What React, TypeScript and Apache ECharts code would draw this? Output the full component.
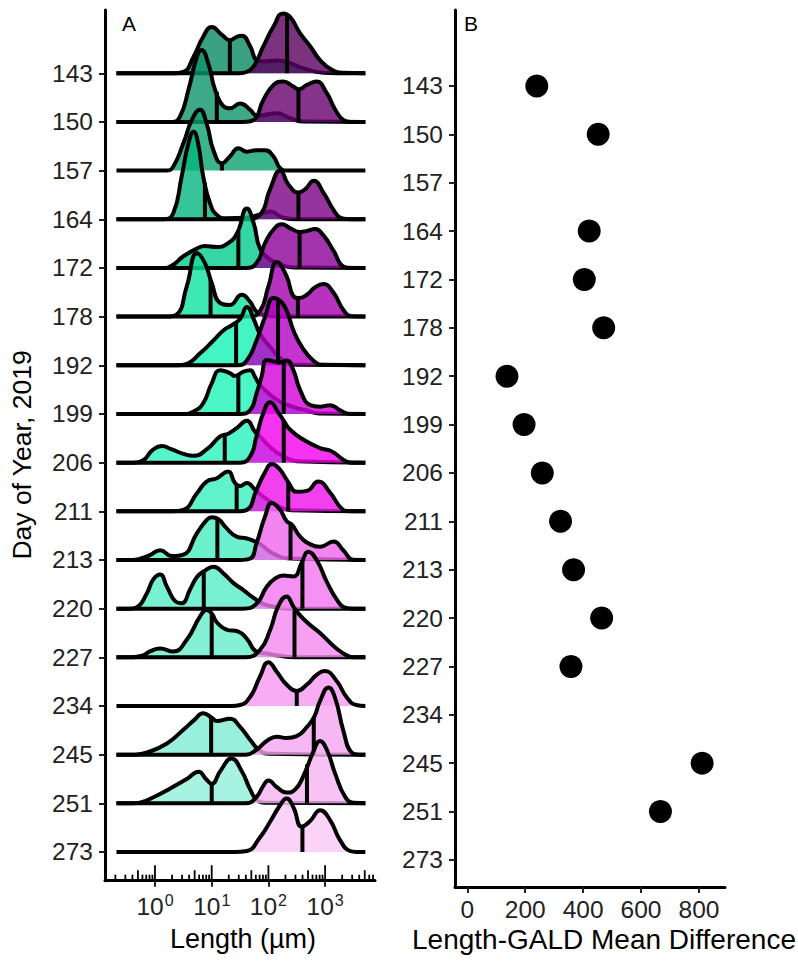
import React, { useEffect, useRef } from "react";
import * as echarts from "echarts";

// ---------- data ----------
const days = ["143", "150", "157", "164", "172", "178", "192", "199", "206", "211", "213", "220", "227", "234", "245", "251", "273"];

// Panel A: density outlines, [log10(length, µm), density height in row units]
const g143 = [[-0.68, 0], [0.3, 0], [0.5, 0.03], [0.68, 0.34], [0.85, 0.75], [1.0, 0.95], [1.18, 0.79], [1.32, 0.68], [1.44, 0.75], [1.53, 0.77], [1.68, 0.55], [1.79, 0.27], [1.91, 0.24], [2.15, 0.26], [2.38, 0.21], [2.62, 0.1], [2.97, 0.01], [3.2, 0], [3.71, 0]];
const p143 = [[-0.68, 0], [1.5, 0], [1.62, 0.03], [1.74, 0.14], [1.91, 0.55], [2.09, 0.96], [2.26, 1.23], [2.38, 1.16], [2.56, 0.82], [2.74, 0.55], [2.91, 0.27], [3.12, 0.07], [3.32, 0.01], [3.71, 0]];
const g150 = [[-0.68, 0], [0.3, 0], [0.44, 0.11], [0.59, 0.66], [0.74, 1.34], [0.82, 1.48], [0.94, 1.2], [1.06, 0.66], [1.21, 0.32], [1.32, 0.28], [1.5, 0.38], [1.68, 0.25], [1.79, 0.13], [1.91, 0.14], [2.15, 0.18], [2.38, 0.08], [2.6, 0.01], [3.71, 0]];
const p150 = [[-0.68, 0], [1.55, 0], [1.74, 0.04], [1.91, 0.45], [2.09, 0.76], [2.26, 0.83], [2.44, 0.73], [2.53, 0.67], [2.68, 0.76], [2.85, 0.83], [3.03, 0.59], [3.18, 0.25], [3.32, 0.04], [3.45, 0], [3.71, 0]];
const g157 = [[-0.68, 0], [0.2, 0], [0.32, 0.08], [0.5, 0.56], [0.65, 1.04], [0.79, 1.25], [0.91, 0.97], [1.03, 0.42], [1.18, 0.15], [1.32, 0.29], [1.47, 0.46], [1.62, 0.39], [1.79, 0.42], [1.94, 0.42], [2.09, 0.29], [2.21, 0.05], [2.35, 0], [3.71, 0]];
const g164 = [[-0.68, 0], [0.15, 0], [0.32, 0.12], [0.47, 0.88], [0.59, 1.56], [0.68, 1.8], [0.76, 1.56], [0.85, 0.88], [0.97, 0.33], [1.09, 0.09], [1.26, 0.02], [1.6, 0.03], [1.85, 0.1], [2.03, 0.16], [2.26, 0.03], [2.5, 0], [3.71, 0]];
const p164 = [[-0.68, 0], [1.6, 0], [1.85, 0.09], [2.03, 0.62], [2.21, 1.0], [2.35, 0.72], [2.53, 0.55], [2.65, 0.62], [2.8, 0.79], [2.97, 0.55], [3.15, 0.19], [3.29, 0.02], [3.45, 0], [3.71, 0]];
const g172 = [[-0.68, 0], [0.15, 0], [0.3, 0.05], [0.5, 0.24], [0.74, 0.4], [0.88, 0.45], [1.09, 0.43], [1.29, 0.51], [1.45, 0.72], [1.62, 1.22], [1.74, 0.92], [1.85, 0.4], [2.0, 0.2], [2.15, 0.1], [2.45, 0.01], [3.71, 0]];
const p172 = [[-0.68, 0], [1.6, 0], [1.79, 0.1], [1.94, 0.51], [2.09, 0.79], [2.24, 0.9], [2.38, 0.82], [2.56, 0.74], [2.68, 0.76], [2.82, 0.8], [2.97, 0.67], [3.15, 0.35], [3.32, 0.03], [3.45, 0], [3.71, 0]];
const g178 = [[-0.68, 0], [0.2, 0], [0.38, 0.04], [0.56, 0.62], [0.74, 1.3], [0.88, 1.1], [1.0, 0.69], [1.15, 0.28], [1.32, 0.24], [1.53, 0.45], [1.68, 0.3], [1.79, 0.1], [1.95, 0.03], [2.2, 0], [3.71, 0]];
const p178 = [[-0.68, 0], [1.65, 0], [1.85, 0.11], [2.0, 0.62], [2.15, 1.12], [2.32, 0.83], [2.44, 0.42], [2.53, 0.38], [2.68, 0.45], [2.82, 0.6], [2.97, 0.67], [3.15, 0.49], [3.32, 0.14], [3.47, 0.01], [3.71, 0]];
const g192 = [[-0.68, 0], [0.4, 0], [0.56, 0.03], [0.79, 0.24], [1.03, 0.51], [1.21, 0.72], [1.35, 0.82], [1.5, 0.95], [1.62, 1.2], [1.74, 0.95], [1.85, 0.65], [2.03, 0.38], [2.26, 0.1], [2.5, 0.01], [3.71, 0]];
const p192 = [[-0.68, 0], [1.45, 0], [1.62, 0.1], [1.79, 0.51], [1.94, 0.99], [2.09, 1.38], [2.2, 1.33], [2.32, 1.13], [2.44, 0.72], [2.59, 0.38], [2.79, 0.1], [2.97, 0.01], [3.71, 0]];
const g199 = [[-0.68, 0], [0.5, 0], [0.68, 0.05], [0.85, 0.22], [1.0, 0.63], [1.15, 0.9], [1.32, 0.84], [1.41, 0.78], [1.56, 0.87], [1.68, 0.9], [1.76, 0.77], [1.85, 0.6], [2.15, 0.29], [2.45, 0.14], [2.68, 0.07], [2.9, 0.01], [3.71, 0]];
const p199 = [[-0.68, 0], [1.5, 0], [1.68, 0.08], [1.79, 0.42], [1.88, 0.77], [1.97, 1.11], [2.09, 1.08], [2.2, 1.06], [2.32, 1.1], [2.44, 0.9], [2.56, 0.49], [2.74, 0.18], [2.91, 0.15], [3.09, 0.18], [3.26, 0.08], [3.44, 0], [3.71, 0]];
const g206 = [[-0.68, 0], [-0.4, 0], [-0.21, 0.05], [-0.05, 0.25], [0.12, 0.34], [0.3, 0.27], [0.5, 0.18], [0.68, 0.14], [0.91, 0.27], [1.15, 0.54], [1.3, 0.6], [1.44, 0.71], [1.62, 0.86], [1.76, 0.64], [1.85, 0.54], [2.05, 0.3], [2.26, 0.13], [2.5, 0.03], [3.71, 0]];
const p206 = [[-0.68, 0], [1.5, 0], [1.68, 0.13], [1.79, 0.54], [1.91, 1.02], [2.03, 1.24], [2.18, 1.02], [2.26, 0.88], [2.38, 0.68], [2.62, 0.47], [2.91, 0.3], [3.12, 0.23], [3.32, 0.06], [3.45, 0], [3.71, 0]];
const g211 = [[-0.68, 0], [0.3, 0], [0.5, 0.03], [0.74, 0.37], [0.91, 0.61], [1.09, 0.68], [1.29, 0.82], [1.41, 0.58], [1.5, 0.52], [1.62, 0.58], [1.76, 0.45], [1.91, 0.3], [2.15, 0.12], [2.4, 0.02], [3.71, 0]];
const p211 = [[-0.68, 0], [1.45, 0], [1.62, 0.03], [1.79, 0.44], [1.94, 0.8], [2.06, 0.97], [2.2, 0.86], [2.35, 0.6], [2.5, 0.4], [2.68, 0.42], [2.88, 0.61], [3.09, 0.38], [3.29, 0.06], [3.44, 0], [3.71, 0]];
const g213 = [[-0.68, 0], [-0.4, 0], [-0.25, 0.03], [-0.09, 0.1], [0.09, 0.2], [0.3, 0.08], [0.5, 0.11], [0.74, 0.55], [0.91, 0.82], [1.0, 0.88], [1.12, 0.84], [1.24, 0.68], [1.44, 0.48], [1.62, 0.44], [1.76, 0.38], [1.85, 0.33], [2.1, 0.12], [2.38, 0.03], [3.71, 0]];
const p213 = [[-0.68, 0], [1.5, 0], [1.68, 0.03], [1.79, 0.34], [1.94, 0.89], [2.06, 1.17], [2.2, 1.04], [2.32, 0.8], [2.41, 0.73], [2.56, 0.48], [2.74, 0.32], [2.91, 0.27], [3.15, 0.38], [3.32, 0.2], [3.5, 0], [3.71, 0]];
const g220 = [[-0.68, 0], [-0.45, 0], [-0.32, 0.03], [-0.15, 0.3], [-0.03, 0.6], [0.09, 0.7], [0.21, 0.45], [0.36, 0.15], [0.47, 0.11], [0.62, 0.4], [0.74, 0.65], [0.88, 0.78], [1.03, 0.86], [1.21, 0.72], [1.38, 0.53], [1.56, 0.38], [1.74, 0.22], [1.91, 0.1], [2.15, 0.03], [2.4, 0], [3.71, 0]];
const p220 = [[-0.68, 0], [1.55, 0], [1.79, 0.1], [1.97, 0.45], [2.12, 0.62], [2.26, 0.68], [2.44, 0.66], [2.59, 0.95], [2.7, 1.17], [2.85, 1.0], [3.03, 0.55], [3.21, 0.18], [3.35, 0.02], [3.5, 0], [3.71, 0]];
const g227 = [[-0.68, 0], [-0.4, 0], [-0.21, 0.04], [-0.09, 0.12], [0.09, 0.18], [0.32, 0.12], [0.56, 0.36], [0.79, 0.83], [0.91, 0.97], [1.0, 0.9], [1.09, 0.72], [1.26, 0.57], [1.47, 0.53], [1.62, 0.38], [1.79, 0.12], [1.97, 0.08], [2.2, 0.03], [2.45, 0], [3.71, 0]];
const p227 = [[-0.68, 0], [1.6, 0], [1.85, 0.15], [2.03, 0.56], [2.17, 1.04], [2.32, 1.25], [2.44, 1.04], [2.5, 0.94], [2.68, 0.72], [2.91, 0.5], [3.2, 0.18], [3.38, 0.04], [3.5, 0], [3.71, 0]];
const p234 = [[-0.68, 0], [1.35, 0], [1.5, 0.02], [1.68, 0.19], [1.85, 0.6], [2.0, 0.9], [2.15, 0.7], [2.32, 0.44], [2.5, 0.31], [2.68, 0.44], [2.85, 0.64], [2.99, 0.72], [3.2, 0.52], [3.38, 0.18], [3.55, 0.02], [3.71, 0]];
const g245 = [[-0.68, 0], [-0.35, 0], [-0.15, 0.04], [0.21, 0.23], [0.5, 0.51], [0.7, 0.72], [0.85, 0.85], [1.0, 0.76], [1.09, 0.69], [1.32, 0.74], [1.5, 0.57], [1.68, 0.3], [1.85, 0.08], [2.03, 0.02], [3.71, 0]];
const p245 = [[-0.68, 0], [1.6, 0], [1.79, 0.1], [1.97, 0.28], [2.15, 0.37], [2.32, 0.34], [2.5, 0.38], [2.68, 0.57], [2.81, 0.78], [2.91, 1.1], [3.06, 1.38], [3.18, 1.15], [3.32, 0.5], [3.47, 0.04], [3.6, 0], [3.71, 0]];
const g251 = [[-0.68, 0], [-0.4, 0], [-0.25, 0.02], [0.0, 0.14], [0.26, 0.3], [0.56, 0.5], [0.77, 0.65], [0.9, 0.5], [1.0, 0.4], [1.15, 0.66], [1.35, 0.92], [1.53, 0.66], [1.68, 0.28], [1.79, 0.08], [1.95, 0.01], [3.71, 0]];
const p251 = [[-0.68, 0], [1.6, 0], [1.79, 0.13], [1.91, 0.36], [2.0, 0.47], [2.15, 0.33], [2.32, 0.22], [2.47, 0.28], [2.62, 0.57], [2.79, 1.05], [2.91, 1.28], [3.03, 1.1], [3.18, 0.6], [3.35, 0.14], [3.5, 0.01], [3.71, 0]];
const p273 = [[-0.68, 0], [1.4, 0], [1.62, 0.02], [1.85, 0.3], [2.03, 0.62], [2.2, 0.95], [2.32, 1.1], [2.44, 0.92], [2.59, 0.52], [2.74, 0.64], [2.91, 0.86], [3.09, 0.65], [3.26, 0.25], [3.44, 0.02], [3.55, 0], [3.71, 0]];

const greenCurves = [g143, g150, g157, g164, g172, g178, g192, g199, g206, g211, g213, g220, g227, null, g245, g251, null];
const purpleCurves = [p143, p150, null, p164, p172, p178, p192, p199, p206, p211, p213, p220, p227, p234, p245, p251, p273];

// median lines: [log10(length), height of the line]
const greenMedians = [[1.32, 0.66], [1.09, 0.62], [1.18, 0.15], [0.88, 0.75], [1.47, 0.75], [0.98, 0.76], [1.43, 0.9], [1.47, 0.8], [1.23, 0.57], [1.44, 0.55], [1.1, 0.84], [0.86, 0.77], [1.0, 0.88], null, [0.99, 0.77], [1.0, 0.4], null];
const purpleMedians = [[2.33, 1.2], [2.53, 0.67], null, [2.53, 0.55], [2.55, 0.74], [2.52, 0.38], [2.17, 1.35], [2.27, 1.08], [2.27, 0.87], [2.35, 0.6], [2.39, 0.75], [2.6, 1.0], [2.46, 0.96], [2.5, 0.31], [2.8, 0.76], [2.68, 0.8], [2.6, 0.5]];

const greenFills = ["#0a8a64", "#0c936c", "#0aa172", "#04b57e", "#04cc8d", "#0ee29f", "#13f3b3", "#1df3b8", "#29f3bd", "#38efbd", "#47ecc2", "#56ecc7", "#65eccc", null, "#7eecd3", "#92efdb", null];
const purpleFills = ["#5a0060", "#68006f", null, "#7c0083", "#8b0097", "#a300af", "#b700c4", "#d300d8", "#f200ec", "#ef10ea", "#ef65ec", "#f276ef", "#f488f0", "#f597f1", "#f5a4f1", "#f8b3f3", "#fac7f6"];

// Panel B: Length-GALD mean difference
const meanDiff = [240, 452, null, 421, 404, 471, 137, 196, 259, 322, 367, 464, 358, null, 811, 667, null];

const decadeTicks = [0, 1, 2, 3];
const diffTicks = [0, 200, 400, 600, 800];

// ---------- layout ----------
const FONT = '"Liberation Sans", Arial, Helvetica, sans-serif';
const X_MIN_A = -0.882, X_MAX_A = 3.88;
const Y_MIN_A = -0.59, Y_MAX_A = 17.3;
const X_MIN_B = -42.5, X_MAX_B = 890;
const Y_MIN_B = -0.56, Y_MAX_B = 17.57;
const N = days.length;
const rowIdx = days.map((_, i) => N - 1 - i);

function buildRidgeSeries() {
  const series: any[] = [];
  let z = 10;
  days.forEach((_, i) => {
    const base = rowIdx[i];
    const parts: [any, any, any][] = [
      [greenCurves[i], greenMedians[i], greenFills[i]],
      [purpleCurves[i], purpleMedians[i], purpleFills[i]],
    ];
    parts.forEach(([curve, med, color]) => {
      if (!curve) return;
      series.push({
        type: "line",
        xAxisIndex: 0,
        yAxisIndex: 0,
        data: curve.map((p: number[]) => [p[0], base + p[1]]),
        smooth: 0.5,
        symbol: "none",
        showSymbol: false,
        silent: true,
        lineStyle: { color: "#000", width: 4, join: "round", cap: "butt" },
        areaStyle: { color, opacity: 0.8, origin: base },
        z: z++,
      });
      if (med) {
        series.push({
          type: "line",
          xAxisIndex: 0,
          yAxisIndex: 0,
          data: [[med[0], base], [med[0], base + med[1]]],
          symbol: "none",
          showSymbol: false,
          silent: true,
          lineStyle: { color: "#000", width: 4 },
          z: z++,
        });
      }
    });
  });
  return series;
}

function buildLogTicks() {
  const out: number[][] = [];
  for (let d = -1; d <= 3; d++) {
    for (let k = 1; k <= 9; k++) {
      const v = d + Math.log10(k);
      if (v >= X_MIN_A && v <= X_MAX_A) out.push([v, k === 1 ? 14 : k === 5 ? 9 : 4.5]);
    }
  }
  return out;
}

export default function App() {
  const ref = useRef<HTMLDivElement>(null);
  useEffect(() => {
    if (!ref.current) return;
    const chart = echarts.init(ref.current, undefined, { renderer: "svg" });
    const labelStyle = { fontFamily: FONT, fontSize: 24.5, color: "#222" };
    const axisLine = { show: true, onZero: false, lineStyle: { color: "#000", width: 3 } };
    const tickStyle = { color: "#222", width: 2 };
    const option: any = {
      animation: false,
      backgroundColor: "#fff",
      grid: [
        { left: 105, top: 10, width: 270, height: 870.7 },
        { left: 455, top: 10, width: 270, height: 877 },
      ],
      xAxis: [
        {
          type: "value", gridIndex: 0, min: X_MIN_A, max: X_MAX_A,
          splitLine: { show: false }, axisLine,
          axisTick: { show: true, customValues: decadeTicks, length: 6, lineStyle: tickStyle },
          axisLabel: {
            show: true, customValues: decadeTicks, margin: 12,
            formatter: (v: number) => `{b|10}{s|${Math.round(v)}}`,
            rich: {
              b: { ...labelStyle },
              s: { fontFamily: FONT, fontSize: 16, color: "#222", verticalAlign: "top", padding: [0, 0, 12, 1] },
            },
          },
        },
        {
          type: "value", gridIndex: 1, min: X_MIN_B, max: X_MAX_B,
          splitLine: { show: false }, axisLine,
          axisTick: { show: true, customValues: diffTicks, length: 6, lineStyle: tickStyle },
          axisLabel: { show: true, customValues: diffTicks, margin: 10, ...labelStyle },
        },
      ],
      yAxis: [
        {
          type: "value", gridIndex: 0, min: Y_MIN_A, max: Y_MAX_A,
          splitLine: { show: false }, axisLine,
          axisTick: { show: true, customValues: rowIdx, length: 6, lineStyle: tickStyle },
          axisLabel: {
            show: true, customValues: rowIdx, margin: 12, ...labelStyle,
            formatter: (v: number) => days[N - 1 - Math.round(v)],
          },
        },
        {
          type: "value", gridIndex: 1, min: Y_MIN_B, max: Y_MAX_B,
          splitLine: { show: false }, axisLine,
          axisTick: { show: true, customValues: rowIdx, length: 6, lineStyle: tickStyle },
          axisLabel: {
            show: true, customValues: rowIdx, margin: 12, ...labelStyle,
            formatter: (v: number) => days[N - 1 - Math.round(v)],
          },
        },
      ],
      series: [
        ...buildRidgeSeries(),
        {
          type: "custom",
          xAxisIndex: 0,
          yAxisIndex: 0,
          clip: false,
          silent: true,
          z: 500,
          data: buildLogTicks(),
          renderItem: (_p: any, api: any) => {
            const pt = api.coord([api.value(0), Y_MIN_A]);
            const len = api.value(1);
            return {
              type: "line",
              shape: { x1: pt[0], y1: pt[1], x2: pt[0], y2: pt[1] - len - 1.5 },
              style: { stroke: "#000", lineWidth: 1.8 },
            };
          },
        },
        {
          type: "scatter",
          xAxisIndex: 1,
          yAxisIndex: 1,
          symbol: "circle",
          symbolSize: 23,
          silent: true,
          itemStyle: { color: "#000", opacity: 1 },
          data: meanDiff
            .map((v, i) => (v === null ? null : [v, rowIdx[i]]))
            .filter((d) => d !== null),
          z: 20,
        },
      ],
      graphic: [
        {
          type: "text", x: 22, y: 455, rotation: Math.PI / 2,
          style: { text: "Day of Year, 2019", fontFamily: FONT, fontSize: 26.5, fill: "#000", align: "center", verticalAlign: "middle" },
        },
        {
          type: "text", x: 243, y: 939,
          style: { text: "Length (µm)", fontFamily: FONT, fontSize: 27, fill: "#000", align: "center", verticalAlign: "middle" },
        },
        {
          type: "text", x: 604, y: 939,
          style: { text: "Length-GALD Mean Difference", fontFamily: FONT, fontSize: 28, fill: "#000", align: "center", verticalAlign: "middle" },
        },
        {
          type: "text", x: 129, y: 23.5,
          style: { text: "A", fontFamily: FONT, fontSize: 21, fill: "#000", align: "center", verticalAlign: "middle" },
        },
        {
          type: "text", x: 471, y: 23.5,
          style: { text: "B", fontFamily: FONT, fontSize: 21, fill: "#000", align: "center", verticalAlign: "middle" },
        },
      ],
    };
    chart.setOption(option);
    return () => chart.dispose();
  }, []);
  return (
    <div
      ref={ref}
      style={{ position: "fixed", left: 0, top: 0, width: 798, height: 962, background: "#fff" }}
    />
  );
}
